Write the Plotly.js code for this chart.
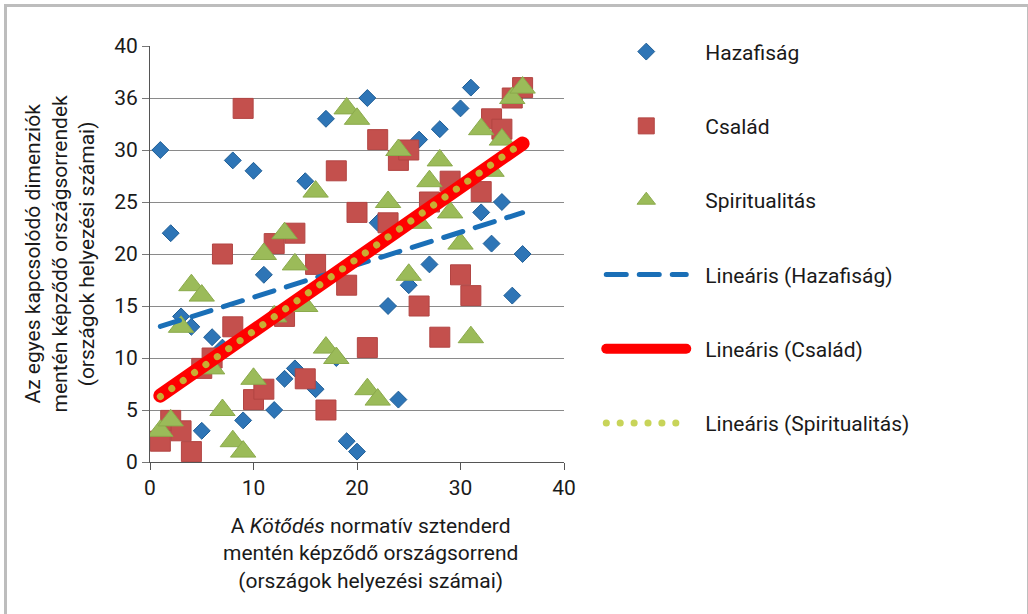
<!DOCTYPE html>
<html>
<head>
<meta charset="utf-8">
<script src="https://cdn.plot.ly/plotly-3.0.1.min.js"></script>
<style>
  html, body { margin: 0; padding: 0; background: #fff; overflow: hidden; }
  #frame { position: absolute; left: 4px; top: 4px; width: 1020px; height: 640px;
           border-left: 3px solid #bdbdbd; border-top: 3px solid #bdbdbd; border-right: 3px solid #bdbdbd; }
  #chart { position: absolute; left: 0; top: 0; width: 1028px; height: 614px; }
</style>
</head>
<body>
<div id="frame"></div>
<div id="chart"></div>
<script>
// ---- data (country ranks) ----
const hazafisagX = [1, 2, 3, 4, 5, 6, 7, 8, 9, 10, 11, 12, 13, 14, 15, 16, 17, 18, 19, 20, 21, 22, 23, 24, 25, 26, 27, 28, 29, 30, 31, 32, 33, 34, 35, 36];
const hazafisagY = [30, 22, 14, 13, 3, 12, 11, 29, 4, 28, 18, 5, 8, 9, 27, 7, 33, 10, 2, 1, 35, 23, 15, 6, 17, 31, 19, 32, 26, 34, 36, 24, 21, 25, 16, 20];

const csaladX = [1, 2, 3, 4, 5, 6, 7, 8, 9, 10, 11, 12, 13, 14, 15, 16, 17, 18, 19, 20, 21, 22, 23, 24, 25, 26, 27, 28, 29, 30, 31, 32, 33, 34, 35, 36];
const csaladY = [2, 4, 3, 1, 9, 10, 20, 13, 34, 6, 7, 21, 14, 22, 8, 19, 5, 28, 17, 24, 11, 31, 23, 29, 30, 15, 25, 12, 27, 18, 16, 26, 33, 32, 35, 36];

const spiritX = [1, 2, 3, 4, 5, 6, 7, 8, 9, 10, 11, 12, 13, 14, 15, 16, 17, 18, 19, 20, 21, 22, 23, 24, 25, 26, 27, 28, 29, 30, 31, 32, 33, 34, 35, 36];
const spiritY = [3, 4, 13, 17, 16, 9, 5, 2, 1, 8, 20, 14, 22, 19, 15, 26, 11, 10, 34, 33, 7, 6, 25, 30, 18, 23, 27, 29, 24, 21, 12, 32, 28, 31, 35, 36];

const seriesNames = ['Hazafiság', 'Család', 'Spiritualitás'];
const trendNames = ['Lineáris (Hazafiság)', 'Lineáris (Család)', 'Lineáris (Spiritualitás)'];

const yTickVals = [0, 5, 10, 15, 20, 25, 30, 35, 40];
const yTickText = ['0', '5', '10', '15', '20', '25', '30', '36', '40'];
const xTickVals = [0, 10, 20, 30, 40];

const xTitle = 'A <i>Kötődés</i> normatív sztenderd<br>mentén képződő országsorrend<br>(országok helyezési számai)';
const yTitle = 'Az egyes kapcsolódó dimenziók<br>mentén képződő országsorrendek<br>(országok helyezési számai)';

// least-squares linear trend
function trend(xs, ys) {
  const n = xs.length;
  const mx = xs.reduce((a, b) => a + b, 0) / n;
  const my = ys.reduce((a, b) => a + b, 0) / n;
  let sxy = 0, sxx = 0;
  for (let i = 0; i < n; i++) { sxy += (xs[i] - mx) * (ys[i] - my); sxx += (xs[i] - mx) ** 2; }
  const b = sxy / sxx, a = my - b * mx;
  const x0 = Math.min(...xs), x1 = Math.max(...xs);
  return { x: [x0, x1], y: [a + b * x0, a + b * x1] };
}

const tH = trend(hazafisagX, hazafisagY);
const tC = trend(csaladX, csaladY);
const tS = trend(spiritX, spiritY);

const traces = [
  { type: 'scatter', mode: 'markers', name: seriesNames[0], x: hazafisagX, y: hazafisagY, legendgroup: 'a',
    marker: { symbol: 'diamond', size: 13, color: '#2E75B6', line: { color: '#1F5E96', width: 1 } } },
  { type: 'scatter', mode: 'markers', name: seriesNames[1], x: csaladX, y: csaladY, legendgroup: 'b',
    marker: { symbol: 'square', size: 20, color: '#C4504D', line: { color: '#B24543', width: 1 } } },
  { type: 'scatter', mode: 'markers', name: seriesNames[2], x: spiritX, y: spiritY, legendgroup: 'c',
    marker: { symbol: 'triangle-up', size: 22, color: '#9BBB59', line: { color: '#8BAA4C', width: 1 } } },
  { type: 'scatter', mode: 'lines', name: trendNames[0], x: tH.x, y: tH.y, legendgroup: 'd',
    line: { color: '#1A6FB7', width: 5, dash: '20px,13px' } },
  { type: 'scatter', mode: 'lines', name: trendNames[1], x: tC.x, y: tC.y, legendgroup: 'e',
    line: { color: '#FF0000', width: 14 } },
  { type: 'scatter', mode: 'lines', name: trendNames[2], x: tS.x, y: tS.y, legendgroup: 'f',
    line: { color: 'rgba(190,205,60,0.85)', width: 7, dash: '0.1px,13.8px' } }
];

const font = { family: 'Roboto, "DejaVu Sans", sans-serif', color: '#1a1a1a' };
const FS = 21;

const layout = {
  width: 1028, height: 614,
  margin: { l: 150, r: 464, t: 46, b: 152 },
  paper_bgcolor: 'rgba(0,0,0,0)', plot_bgcolor: 'rgba(0,0,0,0)',
  font: Object.assign({ size: FS }, font),
  showlegend: true,
  legend: {
    x: 1.09, xanchor: 'left', y: 1.035, yanchor: 'top',
    font: Object.assign({ size: FS }, font),
    tracegroupgap: 44, itemwidth: 80, bgcolor: 'rgba(0,0,0,0)', maxheight: 600
  },
  xaxis: {
    range: [0, 40], tickvals: xTickVals, ticks: 'outside', ticklen: 7, tickcolor: '#555',
    showgrid: false, zeroline: false, showline: true, linecolor: '#555', linewidth: 1,
    tickfont: Object.assign({ size: FS }, font), fixedrange: true
  },
  yaxis: {
    range: [0, 40], tickvals: yTickVals, ticktext: yTickText, ticks: 'outside', ticklen: 7, tickcolor: '#777',
    showgrid: true, gridcolor: '#8a8a8a', gridwidth: 1, zeroline: false,
    showline: true, linecolor: '#555', linewidth: 1,
    tickfont: Object.assign({ size: FS }, font), fixedrange: true
  },
  annotations: [
    { text: xTitle, xref: 'paper', yref: 'paper', x: (370 - 150) / 414, y: (462 - 512) / 416,
      xanchor: 'center', yanchor: 'top', showarrow: false, align: 'center',
      font: Object.assign({ size: FS }, font) },
    { text: yTitle, xref: 'paper', yref: 'paper', x: (18 - 150) / 414, y: (462 - 254) / 416,
      xanchor: 'left', yanchor: 'middle', showarrow: false, align: 'center', textangle: -90,
      font: Object.assign({ size: FS }, font) }
  ]
};

Plotly.newPlot('chart', traces, layout, { displayModeBar: false, staticPlot: true }).then(function (gd) {
  gd.querySelectorAll('.scatterlayer .trace path.js-line, .legend path.js-line').forEach(function (p) {
    p.style.strokeLinecap = 'round';
  });
  gd.querySelectorAll('.legend text.legendtext').forEach(function (t) {
    const x = parseFloat(t.getAttribute('x')) || 0;
    t.setAttribute('x', x + 14);
  });
  gd.querySelectorAll('.legend [clip-path]').forEach(function (e) { e.removeAttribute('clip-path'); });
});
</script>
</body>
</html>
